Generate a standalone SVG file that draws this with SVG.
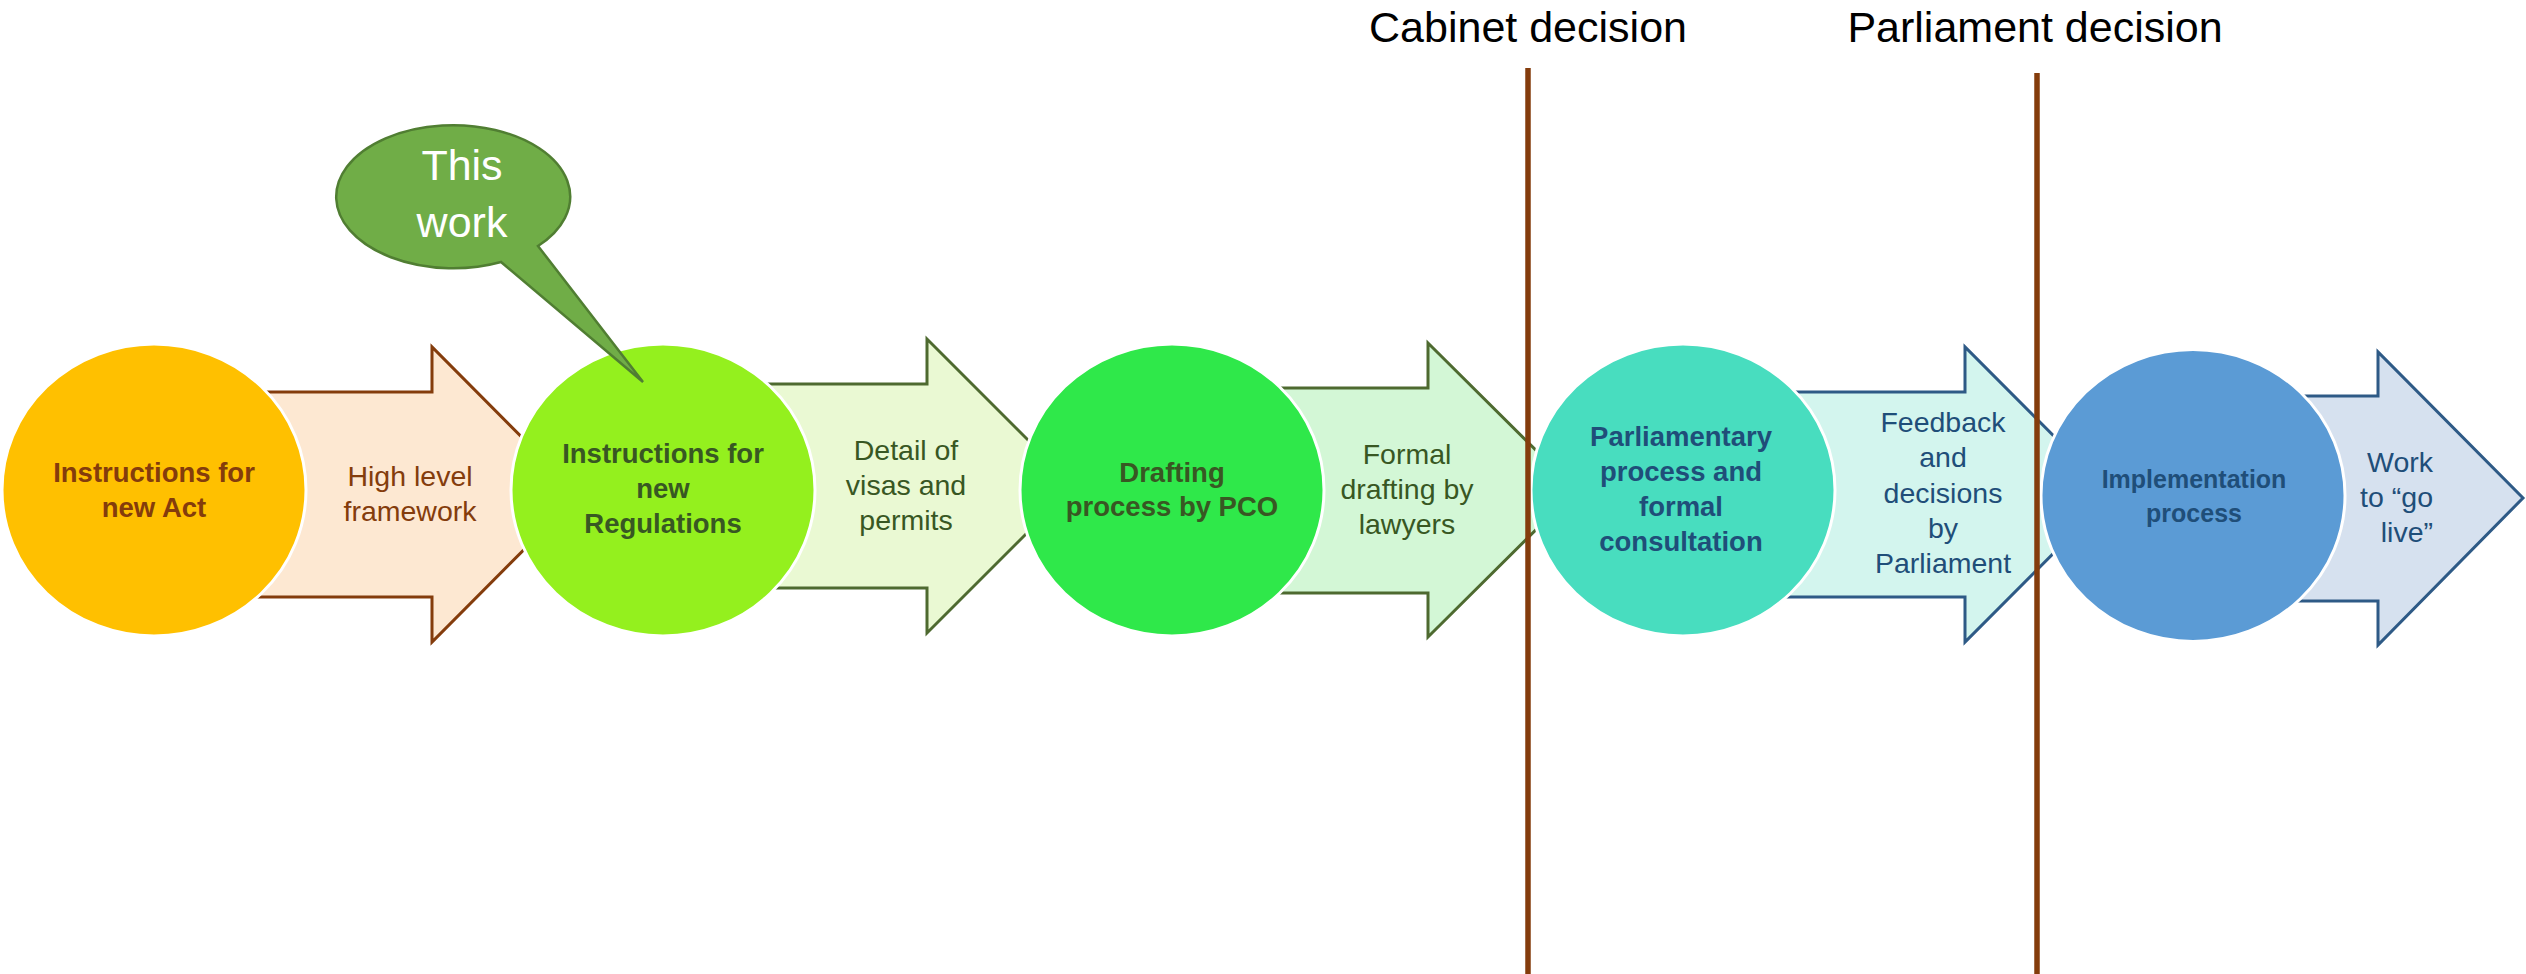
<svg xmlns="http://www.w3.org/2000/svg" width="2526" height="974" viewBox="0 0 2526 974">
<style>
text{font-family:"Liberation Sans",Arial,sans-serif;text-anchor:middle}
.nt{font-weight:bold;font-size:27.5px}
.at{font-size:28.5px}
.circ{stroke:#fff;stroke-width:3}
.arr{stroke-width:3;stroke-linejoin:miter}
.brown{fill:#843C0C}
.green{fill:#385723}
.blue{fill:#1F4E79}
.dline{stroke:#843C0C;stroke-width:5.5}
.top{font-size:43px;fill:#000}
</style>
<rect width="2526" height="974" fill="#fff"/>
<g id="connectors">
  <g id="arrow1">
    <polygon class="arr" fill="#FDE8D2" stroke="#843C0C" points="200,392 432,392 432,347 579,494.5 432,642 432,597 200,597"/>
    <text class="at brown" x="410" y="486">High level</text>
    <text class="at brown" x="410" y="521">framework</text>
  </g>
  <g id="arrow2">
    <polygon class="arr" fill="#EAF9D3" stroke="#4E6A30" points="700,384 927,384 927,339 1074,486 927,633 927,588 700,588"/>
    <text class="at green" x="906" y="460">Detail of</text>
    <text class="at green" x="906" y="495">visas and</text>
    <text class="at green" x="906" y="530">permits</text>
  </g>
  <g id="arrow3">
    <polygon class="arr" fill="#D3F7D6" stroke="#4E6A30" points="1200,388 1428,388 1428,343 1576,490 1428,637 1428,593 1200,593"/>
    <text class="at green" x="1407" y="464">Formal</text>
    <text class="at green" x="1407" y="499">drafting by</text>
    <text class="at green" x="1407" y="534">lawyers</text>
  </g>
  <g id="arrow4">
    <polygon class="arr" fill="#D3F5EE" stroke="#2E5A86" points="1700,392 1965,392 1965,347 2112,494.5 1965,642 1965,597 1700,597"/>
    <text class="at blue" x="1943" y="432">Feedback</text>
    <text class="at blue" x="1943" y="467">and</text>
    <text class="at blue" x="1943" y="503">decisions</text>
    <text class="at blue" x="1943" y="538">by</text>
    <text class="at blue" x="1943" y="573">Parliament</text>
  </g>
  <g id="arrow5">
    <polygon class="arr" fill="#D6E1EF" stroke="#2E5A86" points="2250,396 2378,396 2378,352 2523,498 2378,645 2378,601 2250,601"/>
    <text class="at blue" x="2433" y="472" style="text-anchor:end">Work</text>
    <text class="at blue" x="2433" y="507" style="text-anchor:end">to “go</text>
    <text class="at blue" x="2433" y="542" style="text-anchor:end">live”</text>
  </g>
</g>
<g id="node-act">
  <ellipse class="circ" cx="154" cy="490" rx="152" ry="146" fill="#FFC000"/>
  <text class="nt brown" x="154" y="482">Instructions for</text>
  <text class="nt brown" x="154" y="517">new Act</text>
</g>
<g id="node-regulations">
  <ellipse class="circ" cx="663" cy="490" rx="152" ry="146" fill="#94F01E"/>
  <text class="nt green" x="663" y="463">Instructions for</text>
  <text class="nt green" x="663" y="498">new</text>
  <text class="nt green" x="663" y="533">Regulations</text>
</g>
<g id="node-drafting">
  <ellipse class="circ" cx="1172" cy="490" rx="152" ry="146" fill="#2FE84A"/>
  <text class="nt green" x="1172" y="482">Drafting</text>
  <text class="nt green" x="1172" y="516">process by PCO</text>
</g>
<g id="node-parliamentary">
  <ellipse class="circ" cx="1683" cy="490" rx="152" ry="146" fill="#48DDBF"/>
  <text class="nt blue" x="1681" y="446">Parliamentary</text>
  <text class="nt blue" x="1681" y="481">process and</text>
  <text class="nt blue" x="1681" y="516">formal</text>
  <text class="nt blue" x="1681" y="551">consultation</text>
</g>
<g id="node-implementation">
  <ellipse class="circ" cx="2193" cy="495.5" rx="152" ry="146" fill="#5B9BD5"/>
  <text class="blue" x="2194" y="488" style="font-weight:bold;font-size:25px">Implementation</text>
  <text class="blue" x="2194" y="522" style="font-weight:bold;font-size:25px">process</text>
</g>
<g id="decision-lines">
  <line class="dline" x1="1528" y1="68" x2="1528" y2="974"/>
  <line class="dline" x1="2037" y1="73" x2="2037" y2="974"/>
  <text class="top" x="1528" y="42">Cabinet decision</text>
  <text class="top" x="2035" y="42">Parliament decision</text>
</g>
<g id="callout-this-work">
  <path d="M 538 246 L 643 382 L 501 262 A 117 71.5 0 1 1 538 246 Z" fill="#70AD47" stroke="#507E32" stroke-width="2.5" stroke-linejoin="miter"/>
  <text x="462" y="180" style="font-size:43px;fill:#fff">This</text>
  <text x="462" y="237" style="font-size:43px;fill:#fff">work</text>
</g>
</svg>
